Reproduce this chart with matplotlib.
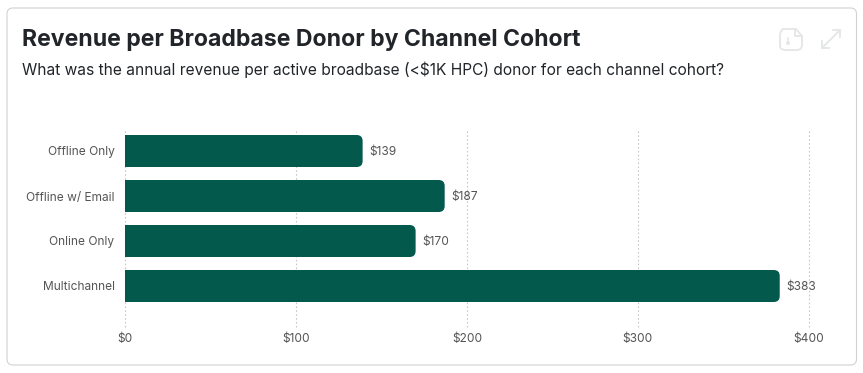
import matplotlib
matplotlib.use("Agg")
import matplotlib.pyplot as plt
from matplotlib.patches import FancyBboxPatch, Circle, PathPatch
from matplotlib.path import Path

categories = ["Offline Only", "Offline w/ Email", "Online Only", "Multichannel"]
revenue = [139, 187, 170, 383]
x_ticks = [0, 100, 200, 300, 400]

W, H = 863, 373
plt.rcParams['font.family'] = ['Inter', 'DejaVu Sans']
fig = plt.figure(figsize=(W / 100, H / 100), dpi=100, facecolor="white")

# overlay in pixel coords for the card, titles and icons
bg = fig.add_axes([0, 0, 1, 1])
bg.set_xlim(0, W)
bg.set_ylim(H, 0)
bg.axis("off")
bg.add_patch(FancyBboxPatch((7, 8), 849.5, 357, boxstyle="round,pad=0,rounding_size=6",
                            facecolor="white", edgecolor="#d2d2d2", linewidth=0.8))
bg.text(22, 46, "Revenue per Broadbase Donor by Channel Cohort", fontsize=16.6,
        fontweight="bold", color="#212529", va="baseline", ha="left")
bg.text(22, 75, "What was the annual revenue per active broadbase (<$1K HPC) donor for each channel cohort?",
        fontsize=11.17, color="#212529", va="baseline", ha="left")

# icons top right
icon = "#e6e8e7"
doc = Path([(787, 29), (796, 29), (802, 36), (802, 45), (802, 49), (798, 50), (786, 50),
            (781, 50), (780, 47), (780, 36), (780, 31), (783, 29), (787, 29)],
           [Path.MOVETO, Path.LINETO, Path.LINETO, Path.LINETO, Path.CURVE3, Path.CURVE3, Path.LINETO,
            Path.CURVE3, Path.CURVE3, Path.LINETO, Path.CURVE3, Path.CURVE3, Path.CLOSEPOLY])
bg.add_patch(PathPatch(doc, facecolor="none", edgecolor=icon, linewidth=1.4))
bg.plot([795, 795, 802], [29, 36, 36], color=icon, lw=1.4)
bg.plot([788, 788], [38, 42], color=icon, lw=1.2)
bg.add_patch(Circle((788, 43), 2, facecolor=icon, edgecolor="none"))
bg.plot([822, 840], [48, 30], color=icon, lw=1.4)
bg.plot([822, 822, 829], [41, 48, 48], color=icon, lw=1.4)
bg.plot([833, 840, 840], [30, 30, 37], color=icon, lw=1.4)

# axes: $0 at x=125, $400 at x=808.8, gridlines run y=129 to 327
x0, x1 = 125.0, 808.8
top, bottom = 129, 327
ax = fig.add_axes([x0 / W, 1 - bottom / H, (x1 - x0) / W, (bottom - top) / H])
ax.patch.set_alpha(0)
band = 45
ax.set_xlim(0, 400)
ax.set_ylim((327 - 151) / band, (129 - 151) / band)

y_pos = list(range(len(categories)))
bars = ax.barh(y_pos, revenue, height=32 / band, color="none", edgecolor="none")

px_x = (x1 - x0) / 400
r_x = 6 / px_x
for b in bars:
    # rounded right end, square-ish left end
    left_ext = 3 * r_x
    ax.add_patch(FancyBboxPatch((b.get_x() - left_ext, b.get_y()), b.get_width() + left_ext, b.get_height(),
                                boxstyle=f"round,pad=0,rounding_size={r_x}",
                                mutation_aspect=(6 / band) / r_x,
                                facecolor="#02594c", edgecolor="none", zorder=3, clip_on=True))

for y, v in zip(y_pos, revenue):
    ax.annotate(f"${v}", (v, y), xytext=(7, -1), textcoords="offset pixels", va="center", ha="left",
                fontsize=8.6, color="#555555", zorder=4, annotation_clip=False)

ax.set_xticks(x_ticks)
ax.set_xticklabels([f"${t}" for t in x_ticks], fontsize=8.6, color="#555555")
ax.set_yticks(y_pos)
ax.set_yticklabels(categories, fontsize=8.6, color="#555555")
ax.tick_params(axis="both", length=0)
ax.tick_params(axis="x", pad=4)
ax.tick_params(axis="y", pad=7.5)
ax.grid(axis="x", color="#c8c8c8", linestyle=(0, (1.5, 2)), linewidth=0.8, clip_on=False)
ax.set_axisbelow(True)
for s in ax.spines.values():
    s.set_visible(False)

fig.savefig("out.png", dpi=100)
